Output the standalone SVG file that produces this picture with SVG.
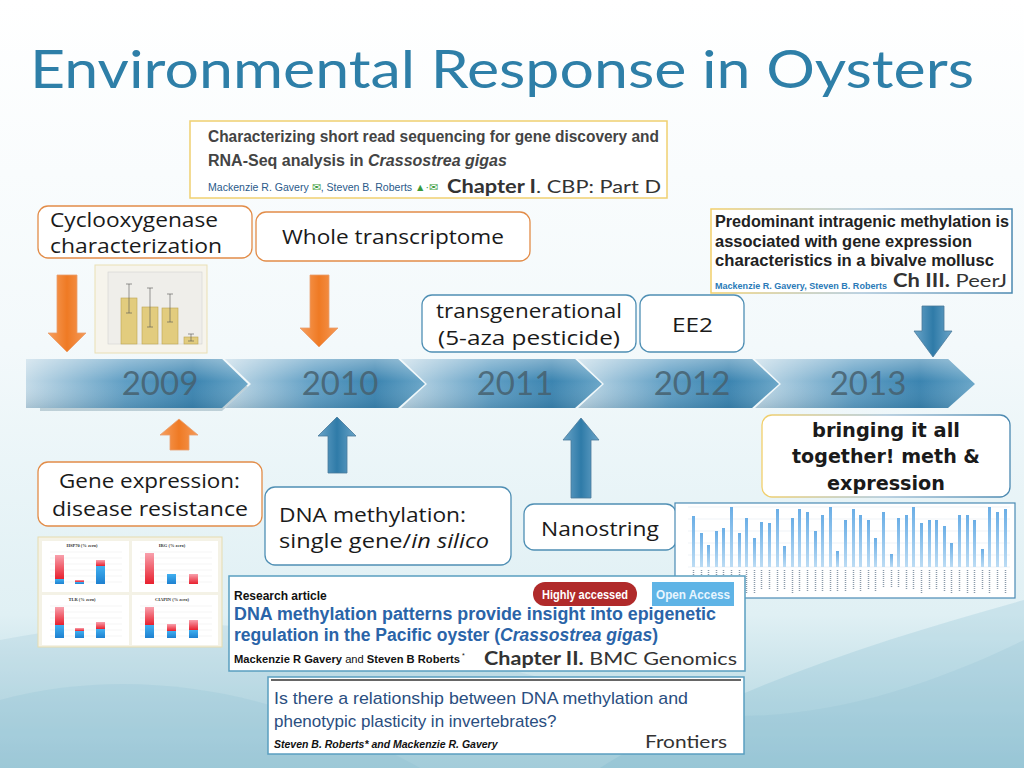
<svg xmlns="http://www.w3.org/2000/svg" width="1024" height="768" viewBox="0 0 1024 768">
<defs>
<linearGradient id="bg" x1="0" y1="0" x2="0" y2="1">
<stop offset="0" stop-color="#ffffff"/><stop offset="0.45" stop-color="#f3f9fb"/><stop offset="0.8" stop-color="#e0f0f4"/><stop offset="1" stop-color="#a8d0dc"/>
</linearGradient>
<linearGradient id="seg" x1="0" y1="0" x2="1" y2="0">
<stop offset="0" stop-color="#c4dbe8"/><stop offset="0.45" stop-color="#5f9ec4"/><stop offset="0.75" stop-color="#3b84b0"/><stop offset="1" stop-color="#6aa6c8"/>
</linearGradient>
<linearGradient id="segv" x1="0" y1="0" x2="0" y2="1">
<stop offset="0" stop-color="#fff" stop-opacity="0.35"/><stop offset="0.45" stop-color="#fff" stop-opacity="0"/><stop offset="1" stop-color="#12405a" stop-opacity="0.15"/>
</linearGradient>
<linearGradient id="orng" x1="0" y1="0" x2="1" y2="0">
<stop offset="0" stop-color="#f7a060"/><stop offset="0.5" stop-color="#ef7a24"/><stop offset="1" stop-color="#f59a58"/>
</linearGradient>
<linearGradient id="blu" x1="0" y1="0" x2="1" y2="0">
<stop offset="0" stop-color="#6aa4c8"/><stop offset="0.5" stop-color="#2f7ba8"/><stop offset="1" stop-color="#6aa4c8"/>
</linearGradient>
<linearGradient id="redbar" x1="0" y1="0" x2="0" y2="1">
<stop offset="0" stop-color="#f8a0ac"/><stop offset="1" stop-color="#e8202e"/>
</linearGradient>
<linearGradient id="bluebar" x1="0" y1="0" x2="0" y2="1">
<stop offset="0" stop-color="#40b0f0"/><stop offset="1" stop-color="#1e80d0"/>
</linearGradient>
<linearGradient id="gbar" x1="0" y1="0" x2="0" y2="1">
<stop offset="0" stop-color="#6aaee6"/><stop offset="1" stop-color="#bcdcf4"/>
</linearGradient>
<linearGradient id="yb" x1="0" y1="0" x2="1" y2="0">
<stop offset="0" stop-color="#f2cf6a"/><stop offset="0.5" stop-color="#a8c4d8"/><stop offset="1" stop-color="#4a88b0"/>
</linearGradient>
<style>
.lbl{font-family:"Open Sans",Lato,"Liberation Sans",sans-serif;font-size:20px;fill:#1a1a1a}
.tog{font-family:"DejaVu Sans",sans-serif;font-size:19px;font-weight:bold;fill:#1a1a1a;text-anchor:middle}
.yr{font-family:Lato,"Liberation Sans",sans-serif;font-size:33px;fill:#46606e;fill-opacity:0.85;text-anchor:middle}
.bo{fill:#ffffff;stroke:#e28c48;stroke-width:1.3}
.bb{fill:#ffffff;stroke:#4f8fb4;stroke-width:1.3}
.pap{font-family:"Liberation Sans",Arial,sans-serif}
.chap{font-family:Lato,"Liberation Sans",sans-serif;font-size:18px;fill:#333}
</style>
</defs>
<rect width="1024" height="768" fill="url(#bg)"/>
<path d="M0 640 C200 600 420 640 620 700 C760 740 900 700 1024 640 L1024 768 L0 768 Z" fill="#8fc0d2" opacity="0.2"/>
<path d="M600 768 C720 690 880 640 1024 600 L1024 768 Z" fill="#6faec6" opacity="0.2"/>
<path d="M0 700 C150 660 300 700 420 768 L0 768 Z" fill="#7fb8cc" opacity="0.18"/>

<text x="30" y="88" font-family="Lato,'Open Sans','Liberation Sans',sans-serif" font-size="52" fill="#2e7fa8" textLength="944" lengthAdjust="spacingAndGlyphs">Environmental Response in Oysters</text>

<!-- Chapter I -->
<g id="chapter1">
<rect x="190" y="121" width="477" height="77" fill="#fff" stroke="#f0d070" stroke-width="1.5"/>
<text class="pap" x="208" y="142" font-size="16" font-weight="bold" fill="#444" textLength="451" lengthAdjust="spacingAndGlyphs">Characterizing short read sequencing for gene discovery and</text>
<text class="pap" x="208" y="166" font-size="16" font-weight="bold" fill="#444">RNA-Seq analysis in <tspan font-style="italic">Crassostrea gigas</tspan></text>
<text class="pap" x="208" y="191" font-size="10.5" fill="#2a5a8a" textLength="230" lengthAdjust="spacingAndGlyphs">Mackenzie R. Gavery <tspan fill="#3a9a3a">✉</tspan>, Steven B. Roberts <tspan fill="#3a9a3a">▲·✉</tspan></text>
<text class="chap" x="447" y="193" font-size="19" textLength="214" lengthAdjust="spacingAndGlyphs"><tspan font-weight="bold">Chapter I</tspan>. CBP: Part D</text>
</g>

<!-- Ch III -->
<g id="chapter3">
<rect x="711" y="209" width="301" height="84" fill="#fff" stroke="url(#yb)" stroke-width="1.5"/>
<text class="pap" x="715" y="227" font-size="16" font-weight="bold" fill="#222" textLength="294" lengthAdjust="spacingAndGlyphs">Predominant intragenic methylation is</text>
<text class="pap" x="715" y="247" font-size="16" font-weight="bold" fill="#222" textLength="257" lengthAdjust="spacingAndGlyphs">associated with gene expression</text>
<text class="pap" x="715" y="266" font-size="16" font-weight="bold" fill="#222" textLength="279" lengthAdjust="spacingAndGlyphs">characteristics in a bivalve mollusc</text>
<text class="pap" x="715" y="289" font-size="9.5" font-weight="bold" fill="#2a7ab8" textLength="172" lengthAdjust="spacingAndGlyphs">Mackenzie R. Gavery, Steven B. Roberts</text>
<text class="chap" x="893" y="287" font-size="17" textLength="114" lengthAdjust="spacingAndGlyphs"><tspan font-weight="bold">Ch III.</tspan> PeerJ</text>
</g>

<!-- top boxes -->
<g id="cox">
<rect class="bo" x="38" y="206" width="214" height="52" rx="10"/>
<text class="lbl" x="50" y="227" textLength="168" lengthAdjust="spacingAndGlyphs">Cyclooxygenase</text>
<text class="lbl" x="50" y="253" textLength="172" lengthAdjust="spacingAndGlyphs">characterization</text>
</g>
<g id="transcriptome">
<rect class="bo" x="256" y="212" width="274" height="49" rx="10"/>
<text class="lbl" x="282" y="244" textLength="222" lengthAdjust="spacingAndGlyphs">Whole transcriptome</text>
</g>
<g id="transgen">
<rect class="bb" x="422" y="295" width="214" height="57" rx="10"/>
<text class="lbl" x="436" y="318" textLength="186" lengthAdjust="spacingAndGlyphs">transgenerational</text>
<text class="lbl" x="438" y="345" textLength="182" lengthAdjust="spacingAndGlyphs">(5-aza pesticide)</text>
</g>
<g id="ee2">
<rect class="bb" x="640" y="295" width="104" height="57" rx="10"/>
<text class="lbl" x="672" y="332" textLength="41" lengthAdjust="spacingAndGlyphs">EE2</text>
</g>

<!-- COX bar chart -->
<g id="coxchart">
<rect x="95" y="265" width="112" height="88" fill="#f6f4ec" stroke="#eadfb4"/>
<rect x="108" y="272" width="94" height="72" fill="#efeeea" stroke="#ccc" stroke-width="0.5"/>
<g fill="#e2cc7e" stroke="#bca452" stroke-width="0.6">
<rect x="121" y="298" width="16" height="46"/><rect x="142" y="307" width="16" height="37"/><rect x="162" y="308" width="16" height="36"/><rect x="184" y="337" width="14" height="7"/>
</g>
<g stroke="#555" stroke-width="0.6" fill="none">
<path d="M129 284 V313 M126 284 H132 M126 313 H132 M150 288 V327 M147 288 H153 M147 327 H153 M170 294 V322 M167 294 H173 M167 322 H173 M191 334 V341 M188 334 H194 M188 341 H194"/>
</g>
</g>

<!-- timeline -->
<g id="timeline">
<g transform="translate(0,3)" fill="#2a5a74" opacity="0.25">
<polygon points="40,359 222,359 248,384 222,408 40,408"/>
</g>
<polygon points="26,359 222,359 248,384 222,408 26,408" fill="url(#seg)"/>
<polygon points="26,359 222,359 248,384 222,408 26,408" fill="url(#segv)"/>
<polygon points="225,359 398,359 425,384 398,408 225,408 251,384" fill="url(#seg)"/>
<polygon points="225,359 398,359 425,384 398,408 225,408 251,384" fill="url(#segv)"/>
<polygon points="401,359 575,359 602,384 575,408 401,408 427,384" fill="url(#seg)"/>
<polygon points="401,359 575,359 602,384 575,408 401,408 427,384" fill="url(#segv)"/>
<polygon points="578,359 752,359 779,384 752,408 578,408 604,384" fill="url(#seg)"/>
<polygon points="578,359 752,359 779,384 752,408 578,408 604,384" fill="url(#segv)"/>
<polygon points="755,359 948,359 975,384 948,408 755,408 781,384" fill="url(#seg)"/>
<polygon points="755,359 948,359 975,384 948,408 755,408 781,384" fill="url(#segv)"/>
<text class="yr" x="160" y="395">2009</text>
<text class="yr" x="340" y="395">2010</text>
<text class="yr" x="515" y="395">2011</text>
<text class="yr" x="692" y="395">2012</text>
<text class="yr" x="868" y="395">2013</text>
</g>

<!-- arrows -->
<g id="connectors">
<polygon points="57,275 77,275 77,333 86,333 67,352 48,333 57,333" fill="url(#orng)" stroke="#e8a070" stroke-width="0.8"/>
<polygon points="310,275 329,275 329,328 338,328 319,347 300,328 310,328" fill="url(#orng)" stroke="#e8a070" stroke-width="0.8"/>
<polygon points="922,306 944,306 944,331 952,331 933,357 914,331 922,331" fill="url(#blu)" stroke="#4a7a9a" stroke-width="0.8"/>
<polygon points="170,450 189,450 189,435 198,435 179,419 160,435 170,435" fill="url(#orng)" stroke="#e8a070" stroke-width="0.8"/>
<polygon points="328,473 347,473 347,436 356,436 337,417 318,436 328,436" fill="url(#blu)" stroke="#4a7a9a" stroke-width="0.8"/>
<polygon points="571,498 591,498 591,440 599,440 581,418 563,440 571,440" fill="url(#blu)" stroke="#4a7a9a" stroke-width="0.8"/>
</g>

<!-- bringing it all together -->
<g id="together">
<rect x="762" y="415" width="248" height="82" rx="10" fill="#fff" stroke="url(#yb)" stroke-width="1.3"/>
<text class="tog" x="886" y="437" textLength="148" lengthAdjust="spacingAndGlyphs">bringing it all</text>
<text class="tog" x="886" y="463" textLength="188" lengthAdjust="spacingAndGlyphs">together! meth &amp;</text>
<text class="tog" x="886" y="490" textLength="118" lengthAdjust="spacingAndGlyphs">expression</text>
</g>

<g id="geneexpr">
<rect class="bo" x="38" y="462" width="224" height="64" rx="10"/>
<text class="lbl" x="59" y="488" textLength="181" lengthAdjust="spacingAndGlyphs">Gene expression:</text>
<text class="lbl" x="52" y="516" textLength="196" lengthAdjust="spacingAndGlyphs">disease resistance</text>
</g>
<g id="dnameth">
<rect class="bb" x="265" y="487" width="246" height="78" rx="10"/>
<text class="lbl" x="279" y="522" textLength="187" lengthAdjust="spacingAndGlyphs">DNA methylation:</text>
<text class="lbl" x="279" y="548" textLength="210" lengthAdjust="spacingAndGlyphs">single gene/<tspan font-style="italic">in silico</tspan></text>
</g>
<g id="nanostring">
<rect class="bb" x="524" y="504" width="152" height="46" rx="10"/>
<text class="lbl" x="541" y="536" textLength="118" lengthAdjust="spacingAndGlyphs">Nanostring</text>
</g>

<!-- gene expression charts -->
<g id="gechart">
<rect x="38" y="537" width="184" height="110" fill="#f4f2e6" stroke="#e6dcb0"/>
<rect x="42" y="541" width="87" height="51" fill="#fff"/>
<rect x="132" y="541" width="86" height="51" fill="#fff"/>
<rect x="42" y="595" width="87" height="50" fill="#fff"/>
<rect x="132" y="595" width="86" height="50" fill="#fff"/>
<g font-family="'Liberation Serif',serif" font-size="4.5" font-weight="bold" fill="#333" text-anchor="middle">
<text x="82" y="547">HSP70 (% zero)</text><text x="172" y="547">IRG (% zero)</text>
<text x="82" y="601">TLR (% zero)</text><text x="172" y="601">CIAPIN (% zero)</text>
</g>
<g stroke="#e4e4e4" stroke-width="0.4">
<path d="M50 552 H122 M50 558 H122 M50 564 H122 M50 570 H122 M50 576 H122 M50 582 H122 M140 552 H212 M140 558 H212 M140 564 H212 M140 570 H212 M140 576 H212 M140 582 H212 M50 606 H122 M50 612 H122 M50 618 H122 M50 624 H122 M50 630 H122 M50 636 H122 M140 606 H212 M140 612 H212 M140 618 H212 M140 624 H212 M140 630 H212 M140 636 H212"/>
</g>
<rect x="55" y="555" width="9" height="24" fill="url(#redbar)"/><rect x="55" y="579" width="9" height="5" fill="url(#bluebar)"/>
<rect x="75" y="580" width="9" height="2" fill="url(#redbar)"/><rect x="75" y="582" width="9" height="2" fill="url(#bluebar)"/>
<rect x="96" y="560" width="9" height="6" fill="url(#redbar)"/><rect x="96" y="566" width="9" height="18" fill="url(#bluebar)"/>
<rect x="145" y="553" width="9" height="31" fill="url(#redbar)"/>
<rect x="167" y="574" width="9" height="10" fill="url(#bluebar)"/>
<rect x="189" y="574" width="9" height="10" fill="url(#redbar)"/>
<rect x="55" y="607" width="9" height="18" fill="url(#redbar)"/><rect x="55" y="625" width="9" height="13" fill="url(#bluebar)"/>
<rect x="75" y="628" width="9" height="3" fill="url(#redbar)"/><rect x="75" y="631" width="9" height="7" fill="url(#bluebar)"/>
<rect x="96" y="622" width="9" height="7" fill="url(#redbar)"/><rect x="96" y="629" width="9" height="9" fill="url(#bluebar)"/>
<rect x="145" y="607" width="9" height="18" fill="url(#redbar)"/><rect x="145" y="625" width="9" height="13" fill="url(#bluebar)"/>
<rect x="167" y="624" width="9" height="7" fill="url(#redbar)"/><rect x="167" y="631" width="9" height="7" fill="url(#bluebar)"/>
<rect x="189" y="620" width="9" height="10" fill="url(#redbar)"/><rect x="189" y="630" width="9" height="8" fill="url(#bluebar)"/>
</g>

<!-- methylation bar chart -->
<g id="methchart">
<rect x="675" y="503" width="340" height="95" fill="#fff" stroke="#4a8ab4" stroke-width="1.2"/>
<g stroke="#dde6ee" stroke-width="0.5">
<path d="M688 507 H1010 M688 519 H1010 M688 531 H1010 M688 543 H1010 M688 555 H1010 M688 567 H1010"/>
</g>
<g fill="url(#gbar)">
<rect x="692" y="516" width="3" height="51"/><rect x="700" y="533" width="3" height="34"/><rect x="707" y="545" width="3" height="22"/><rect x="715" y="531" width="3" height="36"/><rect x="722" y="528" width="3" height="39"/><rect x="730" y="507" width="3" height="60"/><rect x="738" y="533" width="3" height="34"/><rect x="745" y="518" width="3" height="49"/><rect x="753" y="538" width="3" height="29"/><rect x="760" y="522" width="3" height="45"/><rect x="768" y="523" width="3" height="44"/><rect x="776" y="509" width="3" height="58"/><rect x="783" y="546" width="3" height="21"/><rect x="791" y="518" width="3" height="49"/><rect x="798" y="509" width="3" height="58"/><rect x="806" y="512" width="3" height="55"/><rect x="814" y="531" width="3" height="36"/><rect x="821" y="515" width="3" height="52"/><rect x="829" y="507" width="3" height="60"/><rect x="836" y="551" width="3" height="16"/><rect x="844" y="520" width="3" height="47"/><rect x="852" y="509" width="3" height="58"/><rect x="859" y="515" width="3" height="52"/><rect x="867" y="520" width="3" height="47"/><rect x="874" y="538" width="3" height="29"/><rect x="882" y="512" width="3" height="55"/><rect x="890" y="554" width="3" height="13"/><rect x="897" y="518" width="3" height="49"/><rect x="905" y="515" width="3" height="52"/><rect x="912" y="507" width="3" height="60"/><rect x="920" y="523" width="3" height="44"/><rect x="928" y="520" width="3" height="47"/><rect x="935" y="520" width="3" height="47"/><rect x="943" y="526" width="3" height="41"/><rect x="950" y="543" width="3" height="24"/><rect x="958" y="515" width="3" height="52"/><rect x="966" y="515" width="3" height="52"/><rect x="973" y="520" width="3" height="47"/><rect x="981" y="549" width="3" height="18"/><rect x="988" y="507" width="3" height="60"/><rect x="996" y="512" width="3" height="55"/><rect x="1004" y="509" width="3" height="58"/>
</g>
<g stroke="#8a9aaa" stroke-width="1.5" stroke-dasharray="1 1">
<path d="M693.5 570 V580 M701.5 570 V578 M708.5 570 V578 M716.5 570 V578 M723.5 570 V578 M731.5 570 V578 M739.5 570 V580 M746.5 570 V594 M754.5 570 V594 M761.5 570 V590 M769.5 570 V590 M777.5 570 V592 M784.5 570 V590 M792.5 570 V594 M799.5 570 V592 M807.5 570 V592 M815.5 570 V592 M822.5 570 V592 M830.5 570 V592 M837.5 570 V592 M845.5 570 V592 M853.5 570 V590 M860.5 570 V592 M868.5 570 V590 M875.5 570 V592 M883.5 570 V588 M891.5 570 V588 M898.5 570 V588 M906.5 570 V590 M913.5 570 V590 M921.5 570 V594 M929.5 570 V590 M936.5 570 V590 M944.5 570 V592 M951.5 570 V594 M959.5 570 V592 M967.5 570 V594 M974.5 570 V594 M982.5 570 V590 M989.5 570 V594 M997.5 570 V590 M1005.5 570 V594"/>
</g>
</g>

<!-- Chapter II -->
<g id="chapter2">
<rect x="229" y="576" width="516" height="95" fill="#fff" stroke="#5a9ec0" stroke-width="1.5"/>
<text class="pap" x="234" y="600" font-size="12" font-weight="bold" fill="#111">Research article</text>
<rect x="533" y="582" width="104" height="24" rx="12" fill="#b02a2a"/>
<text class="pap" x="542" y="599" font-size="12.5" font-weight="bold" fill="#fff" textLength="86" lengthAdjust="spacingAndGlyphs">Highly accessed</text>
<rect x="652" y="582" width="82" height="24" fill="#5fb4e6"/>
<text class="pap" x="656" y="599" font-size="12.5" font-weight="bold" fill="#e8f6ff" textLength="74" lengthAdjust="spacingAndGlyphs">Open Access</text>
<text class="pap" x="234" y="620" font-size="17.5" font-weight="bold" fill="#2a64a8" textLength="482" lengthAdjust="spacingAndGlyphs">DNA methylation patterns provide insight into epigenetic</text>
<text class="pap" x="234" y="641" font-size="17.5" font-weight="bold" fill="#2a64a8" textLength="424" lengthAdjust="spacingAndGlyphs">regulation in the Pacific oyster (<tspan font-style="italic">Crassostrea gigas</tspan>)</text>
<text class="pap" x="234" y="663" font-size="11" fill="#111" textLength="226" lengthAdjust="spacingAndGlyphs"><tspan font-weight="bold">Mackenzie R Gavery</tspan> and <tspan font-weight="bold">Steven B Roberts</tspan></text>
<text class="pap" x="462" y="658" font-size="7" fill="#111">*</text>
<text class="chap" x="484" y="665" font-size="17" textLength="253" lengthAdjust="spacingAndGlyphs"><tspan font-weight="bold">Chapter II.</tspan> BMC Genomics</text>
</g>

<!-- Frontiers -->
<g id="frontiers">
<rect x="268" y="677" width="476" height="77" fill="#fff" stroke="#5a9ec0" stroke-width="1.5"/>
<line x1="271" y1="680" x2="741" y2="680" stroke="#333" stroke-width="1.5"/>
<text class="pap" x="274" y="704" font-size="17" fill="#2a4e80" textLength="414" lengthAdjust="spacingAndGlyphs">Is there a relationship between DNA methylation and</text>
<text class="pap" x="274" y="727" font-size="17" fill="#2a4e80">phenotypic plasticity in invertebrates?</text>
<text class="pap" x="274" y="748" font-size="10.5" font-weight="bold" font-style="italic" fill="#111">Steven B. Roberts* and Mackenzie R. Gavery</text>
<text class="chap" x="645" y="748" font-size="19" fill="#444" textLength="82" lengthAdjust="spacingAndGlyphs">Frontiers</text>
</g>
</svg>
